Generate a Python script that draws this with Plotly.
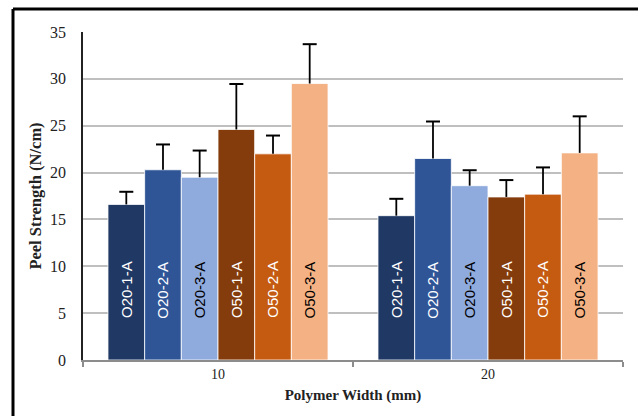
import plotly.graph_objects as go

categories = ["10", "20"]
series_names = ["O20-1-A", "O20-2-A", "O20-3-A", "O50-1-A", "O50-2-A", "O50-3-A"]
values = {
    "O20-1-A": [16.6, 15.4],
    "O20-2-A": [20.3, 21.5],
    "O20-3-A": [19.5, 18.6],
    "O50-1-A": [24.6, 17.4],
    "O50-2-A": [22.0, 17.7],
    "O50-3-A": [29.5, 22.1],
}
errors = {
    "O20-1-A": [1.35, 1.8],
    "O20-2-A": [2.7, 3.95],
    "O20-3-A": [2.85, 1.65],
    "O50-1-A": [4.85, 1.8],
    "O50-2-A": [1.95, 2.85],
    "O50-3-A": [4.2, 3.9],
}
colors = ["#1F3864", "#2F5597", "#8FAADC", "#843C0C", "#C55A11", "#F4B183"]
label_colors = ["white", "white", "black", "white", "white", "black"]
y_ticks = [0, 5, 10, 15, 20, 25, 30, 35]
label_y = 7.5

bargap = 0.185
n = len(series_names)
bw = (1 - bargap) / n

fig = go.Figure()
for i, name in enumerate(series_names):
    fig.add_trace(go.Bar(
        x=categories, y=values[name], name=name, offsetgroup=str(i),
        marker=dict(color=colors[i], line=dict(color="rgba(255,255,255,0.8)", width=1)),
        error_y=dict(type="data", array=errors[name], arrayminus=[0] * len(categories),
                     symmetric=False, color="black", thickness=1.8, width=0),
    ))
for i, name in enumerate(series_names):
    tops = [v + e for v, e in zip(values[name], errors[name])]
    fig.add_trace(go.Scatter(
        x=categories, y=tops, mode="markers", offsetgroup=str(i),
        marker=dict(symbol="line-ew", size=10, line=dict(color="black", width=2)),
        hoverinfo="skip",
    ))
for i, name in enumerate(series_names):
    for ci in range(len(categories)):
        fig.add_annotation(
            x=ci + (i - (n - 1) / 2) * bw, y=label_y, xref="x", yref="y",
            text=name, textangle=-90, showarrow=False,
            font=dict(family="Liberation Sans, Arial", size=15, color=label_colors[i]),
        )

fig.update_layout(
    width=638, height=416,
    barmode="group", bargap=bargap, bargroupgap=0,
    scattermode="group", scattergap=bargap,
    showlegend=False,
    plot_bgcolor="white", paper_bgcolor="white",
    margin=dict(l=83, r=15, t=32, b=56),
    font=dict(family="Liberation Serif, Times New Roman, serif", color="#222"),
)
fig.update_yaxes(
    range=[0, 35], tickvals=y_ticks, showgrid=True, gridcolor="#BFBFBF", gridwidth=1.5,
    showline=True, linecolor="#222", linewidth=1.5, zeroline=False,
    ticks="", ticklabelstandoff=12,
    tickfont=dict(size=16, family="Liberation Serif, serif", color="#222"),
    title=dict(text="<b>Peel Strength (N/cm)</b>", font=dict(size=16.5, color="#222"), standoff=4),
)
fig.update_xaxes(
    type="category", showline=True, linecolor="#8C8C8C", linewidth=2,
    ticks="outside", tickson="boundaries", ticklen=5, tickcolor="#8C8C8C", tickwidth=2,
    tickfont=dict(size=14, family="Liberation Serif, serif", color="#222"),
    title=dict(text="<b>Polymer Width (mm)</b>", font=dict(size=15, color="#222"), standoff=9),
)
# cropped outer frame lines (left and top)
fx = -70 / 540
fy = 1 + 23 / 328
fig.add_shape(type="line", xref="paper", yref="paper", x0=fx, x1=1.1, y0=fy, y1=fy,
              line=dict(color="black", width=3))
fig.add_shape(type="line", xref="paper", yref="paper", x0=fx, x1=fx, y0=fy, y1=-0.3,
              line=dict(color="black", width=3))

fig.write_html("out.html", config={"displayModeBar": False},
               post_script="document.body.style.margin='0';")
